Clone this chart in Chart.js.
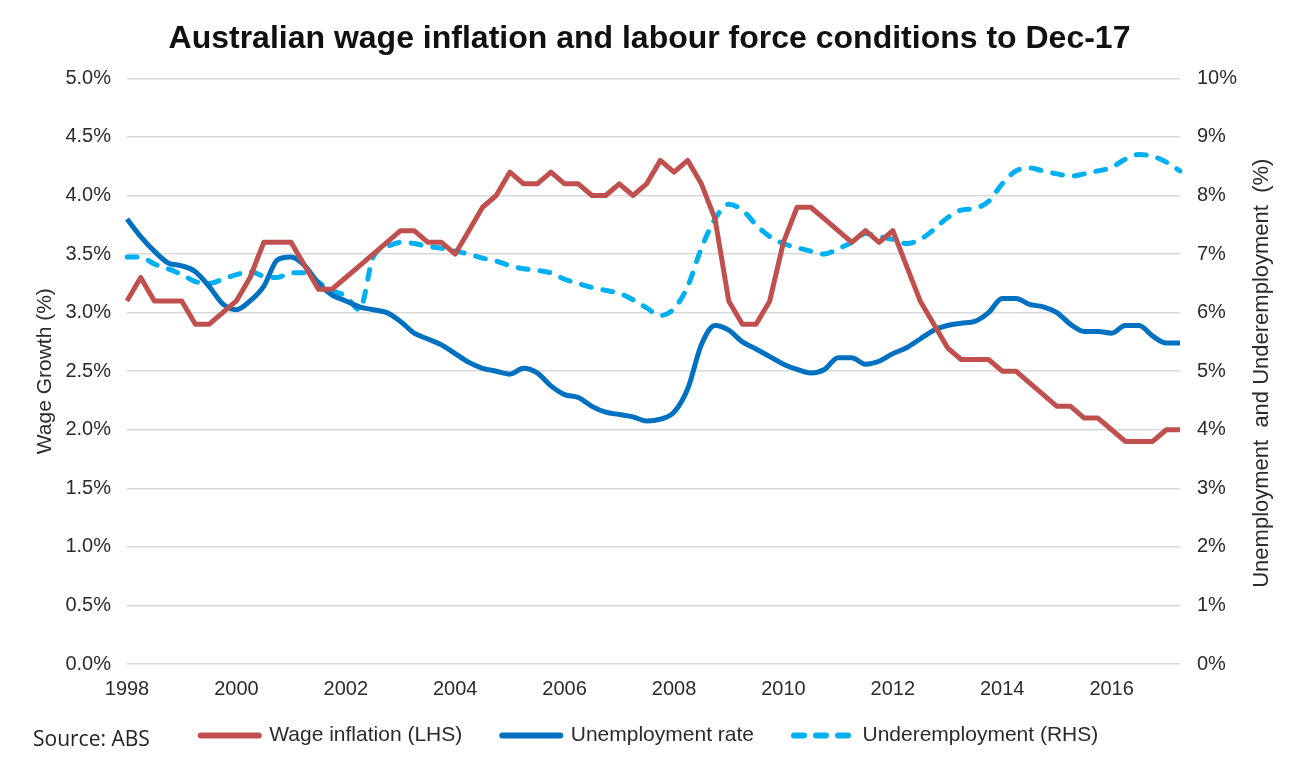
<!DOCTYPE html>
<html>
<head>
<meta charset="utf-8">
<script src="https://cdn.jsdelivr.net/npm/chart.js@4.4.1/dist/chart.umd.min.js"></script>
<style>
  html, body { margin: 0; padding: 0; background: #fff; }
  #wrap { position: relative; width: 1299px; height: 767px; }
</style>
</head>
<body>
<div id="wrap"><canvas id="wageChart"></canvas></div>
<script>
// quarterly, Sep-98 to Dec-17
const startYear = 1998;
const startQuarter = 3;
const quarterCount = 78;

const wageInflation = [
  3.1, 3.3, 3.1, 3.1, 3.1, 2.9, 2.9, 3.0, 3.1, 3.3,
  3.6, 3.6, 3.6, 3.4, 3.2, 3.2, 3.3, 3.4, 3.5, 3.6,
  3.7, 3.7, 3.6, 3.6, 3.5, 3.7, 3.9, 4.0, 4.2, 4.1,
  4.1, 4.2, 4.1, 4.1, 4.0, 4.0, 4.1, 4.0, 4.1, 4.3,
  4.2, 4.3, 4.1, 3.8, 3.1, 2.9, 2.9, 3.1, 3.6, 3.9,
  3.9, 3.8, 3.7, 3.6, 3.7, 3.6, 3.7, 3.4, 3.1, 2.9,
  2.7, 2.6, 2.6, 2.6, 2.5, 2.5, 2.4, 2.3, 2.2, 2.2,
  2.1, 2.1, 2.0, 1.9, 1.9, 1.9, 2.0, 2.0
];

const unemploymentRate = [
  7.6, 7.3, 7.05, 6.85, 6.8, 6.7, 6.45, 6.15, 6.05, 6.2,
  6.45, 6.9, 6.95, 6.8, 6.5, 6.3, 6.2, 6.1, 6.05, 6.0,
  5.85, 5.65, 5.55, 5.45, 5.3, 5.15, 5.05, 5.0, 4.95, 5.05,
  4.97, 4.75, 4.6, 4.55, 4.4, 4.3, 4.26, 4.22, 4.15, 4.18,
  4.3, 4.7, 5.45, 5.78, 5.7, 5.5, 5.38, 5.25, 5.12, 5.03,
  4.97, 5.03, 5.23, 5.23, 5.12, 5.17, 5.3, 5.4, 5.55, 5.7,
  5.78, 5.82, 5.85, 6.0, 6.24, 6.24, 6.14, 6.1, 6.0, 5.8,
  5.68, 5.68, 5.65, 5.78, 5.78, 5.6, 5.48, 5.48
];

const underemployment = [
  6.95, 6.95, 6.83, 6.75, 6.65, 6.53, 6.5, 6.57, 6.65, 6.7,
  6.62, 6.6, 6.68, 6.68, 6.52, 6.38, 6.28, 6.05, 6.95, 7.12,
  7.2, 7.18, 7.13, 7.1, 7.05, 7.0, 6.93, 6.88, 6.8, 6.75,
  6.72, 6.68, 6.57, 6.5, 6.43, 6.38, 6.33, 6.22, 6.08, 5.95,
  6.07, 6.45, 7.1, 7.6, 7.85, 7.75, 7.5, 7.3, 7.18, 7.11,
  7.05, 7.0, 7.09, 7.2, 7.35, 7.3, 7.25, 7.18, 7.25, 7.42,
  7.62, 7.75, 7.78, 7.9, 8.2, 8.42, 8.47, 8.42, 8.37, 8.33,
  8.37, 8.42, 8.48, 8.62, 8.7, 8.67, 8.57, 8.42
];

const quarterLabels = [];
for (let i = 0; i < quarterCount; i++) {
  const q = startQuarter - 1 + i;
  quarterLabels.push((startYear + Math.floor(q / 4)) + '-Q' + (q % 4 + 1));
}

const chartTitle = 'Australian wage inflation and labour force conditions to Dec-17';
const leftAxisTitle = 'Wage Growth (%)';
const rightAxisTitle = 'Unemployment  and Underemployment  (%)';
const sourceNote = 'Source: ABS';

const arial = '"Liberation Sans", Arial, sans-serif';
const textColor = '#2b2b2b';

// right axis title reads bottom-to-top, plus the source note
const extraText = {
  id: 'extraText',
  afterDraw(chart) {
    const ctx = chart.ctx;
    const area = chart.chartArea;
    ctx.save();
    ctx.fillStyle = textColor;
    ctx.font = '22px ' + arial;
    ctx.textAlign = 'center';
    ctx.textBaseline = 'middle';
    ctx.translate(1262, (area.top + area.bottom) / 2 + 2);
    ctx.rotate(-Math.PI / 2);
    ctx.fillText(rightAxisTitle, 0, 0);
    ctx.restore();

    ctx.save();
    ctx.fillStyle = '#222222';
    ctx.font = '21px "Open Sans", sans-serif';
    ctx.textAlign = 'left';
    ctx.textBaseline = 'middle';
    ctx.fillText(sourceNote, 33, 740);
    ctx.restore();
  }
};

const ctx = document.getElementById('wageChart').getContext('2d');
const wageChart = new Chart(ctx, {
  type: 'line',
  data: {
    labels: quarterLabels,
    datasets: [{
      label: 'Wage inflation (LHS)',
      data: wageInflation,
      yAxisID: 'y',
      borderColor: '#C0504D',
      backgroundColor: '#C0504D',
      borderWidth: 5,
      borderJoinStyle: 'round',
      pointRadius: 0,
      tension: 0
    }, {
      label: 'Unemployment rate',
      data: unemploymentRate,
      yAxisID: 'y1',
      borderColor: '#0070C0',
      backgroundColor: '#0070C0',
      borderWidth: 5,
      borderJoinStyle: 'round',
      pointRadius: 0,
      cubicInterpolationMode: 'monotone'
    }, {
      label: 'Underemployment (RHS)',
      data: underemployment,
      yAxisID: 'y1',
      borderColor: '#00B0F0',
      backgroundColor: '#00B0F0',
      borderWidth: 5,
      borderDash: [10, 12],
      borderCapStyle: 'round',
      pointRadius: 0,
      cubicInterpolationMode: 'monotone'
    }]
  },
  options: {
    responsive: true,
    maintainAspectRatio: false,
    animation: false,
    layout: { padding: { left: 0, right: 0, top: 0, bottom: 11 } },
    scales: {
      x: {
        type: 'category',
        offset: false,
        grid: { display: false, drawTicks: false },
        border: { display: false },
        ticks: {
          autoSkip: false,
          maxRotation: 0,
          mirror: true,   // mirrored (no label clipping), negative padding puts them back below the axis
          padding: -37,
          color: textColor,
          font: { family: arial, size: 20 },
          callback: function (value, index) {
            return index % 8 === 0 ? this.getLabelForValue(value).slice(0, 4) : '';
          }
        },
        afterFit: (scale) => { scale.height = 21; }
      },
      y: {
        position: 'left',
        min: 0,
        max: 5,
        grid: { color: '#D9D9D9', lineWidth: 1.5, drawTicks: false },
        border: { display: false },
        ticks: {
          stepSize: 0.5,
          padding: 16,
          color: textColor,
          font: { family: arial, size: 20 },
          callback: (v) => v.toFixed(1) + '%'
        },
        title: {
          display: true,
          text: leftAxisTitle,
          color: textColor,
          font: { family: arial, size: 21 },
          padding: { top: 33, bottom: 0 }
        },
        afterFit: (scale) => { scale.width = 127; }
      },
      y1: {
        position: 'right',
        min: 0,
        max: 10,
        grid: { display: false, drawTicks: false },
        border: { display: false },
        ticks: {
          stepSize: 1,
          padding: 17,
          color: textColor,
          font: { family: arial, size: 20 },
          callback: (v) => v + '%'
        },
        afterFit: (scale) => { scale.width = 119; }
      }
    },
    plugins: {
      title: {
        display: true,
        text: chartTitle,
        color: '#111111',
        font: { family: arial, size: 32, weight: 'bold' },
        padding: { top: 20, bottom: 20 }
      },
      legend: {
        position: 'bottom',
        labels: {
          usePointStyle: true,
          pointStyle: 'line',
          pointStyleWidth: 58,
          boxHeight: 21,
          padding: 40,
          color: textColor,
          font: { family: arial, size: 21 },
          generateLabels: (chart) => {
            const items = Chart.defaults.plugins.legend.labels.generateLabels(chart);
            items.forEach((item) => {
              const ds = chart.data.datasets[item.datasetIndex];
              item.lineDash = ds.borderDash || [];
              item.lineWidth = 6;
              item.lineCap = 'round';
              item.strokeStyle = ds.borderColor;
            });
            return items;
          }
        }
      },
      tooltip: { enabled: false }
    }
  },
  plugins: [extraText]
});
</script>
</body>
</html>
